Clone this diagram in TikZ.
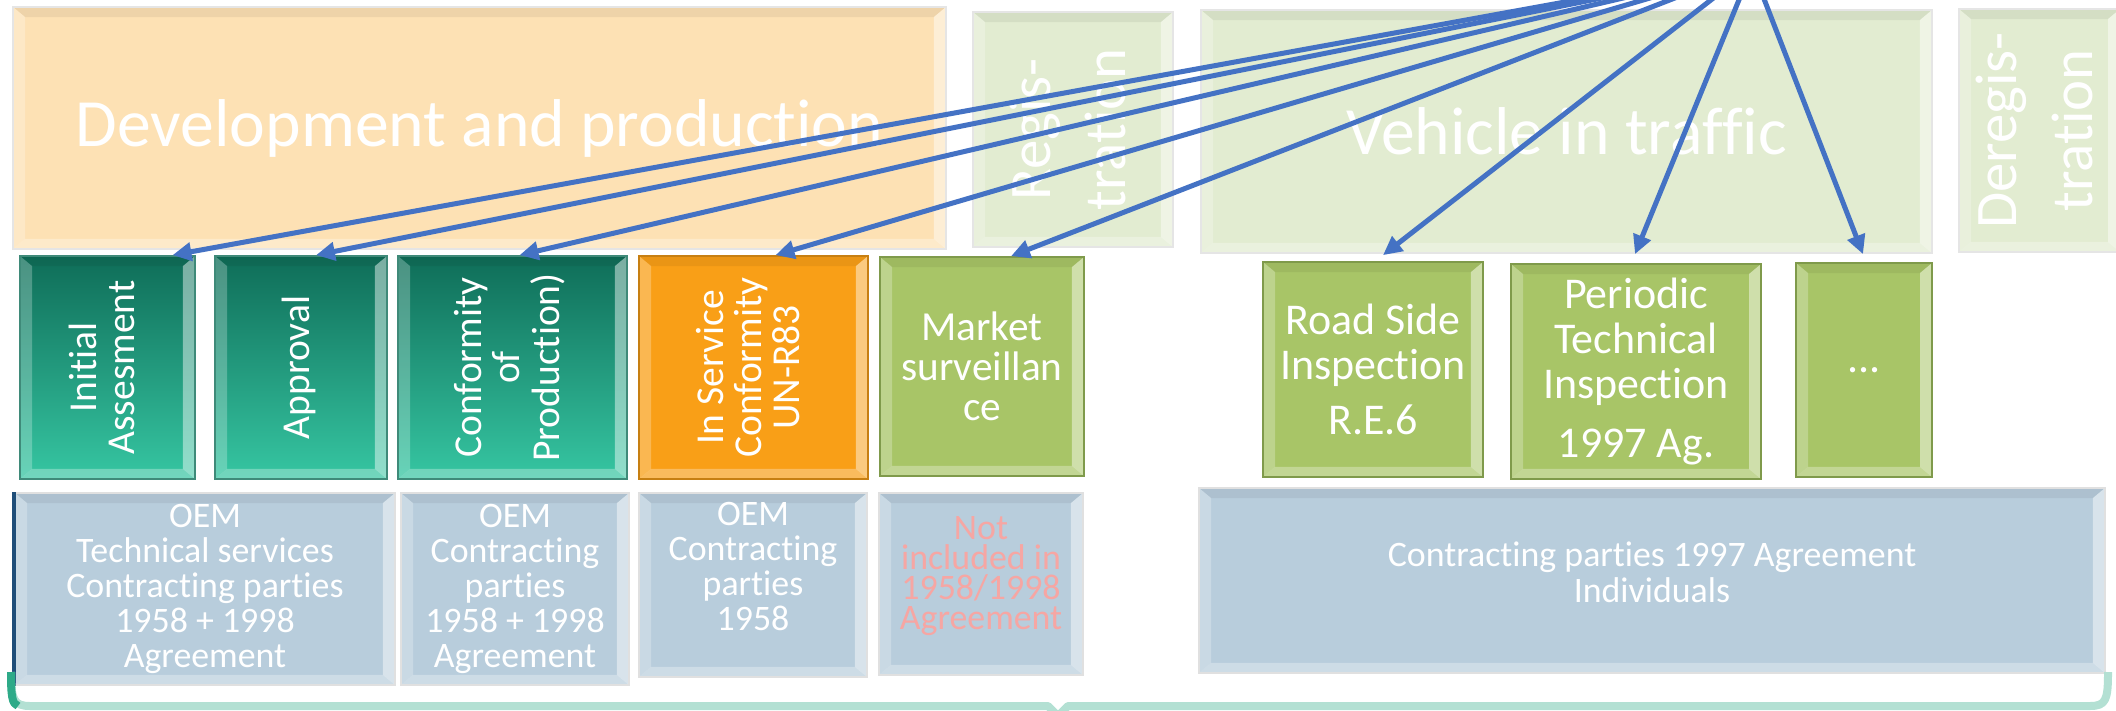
\documentclass[tikz,border=0pt]{standalone}
\usepackage{fontspec}
\setmainfont[Ligatures=NoCommon]{Carlito}
\usetikzlibrary{arrows.meta,calc}

\definecolor{peach}{HTML}{FDE1B4}
\definecolor{pale}{HTML}{E2ECD1}
\definecolor{tealtop}{HTML}{0F6D58}
\definecolor{tealbot}{HTML}{36C6A2}
\definecolor{orng}{HTML}{F99F17}
\definecolor{leaf}{HTML}{A8C567}
\definecolor{leafline}{HTML}{7F9A4B}
\definecolor{steel}{HTML}{B8CDDC}
\definecolor{linkblue}{HTML}{4472C4}
\definecolor{mint}{HTML}{B3E0D3}
\definecolor{mintdark}{HTML}{2EAA88}
\definecolor{navy}{HTML}{1F4E79}
\definecolor{salmon}{HTML}{F6A6A3}

\newcommand{\vtext}[1]{\rotatebox{90}{\begin{tabular}{@{}c@{}}#1\end{tabular}}}

\tikzset{
  bevel/.style={path picture={
    \coordinate (bnw) at (path picture bounding box.north west);
    \coordinate (bne) at (path picture bounding box.north east);
    \coordinate (bsw) at (path picture bounding box.south west);
    \coordinate (bse) at (path picture bounding box.south east);
    \fill[black,opacity=.06] (bnw) -- (bne) -- ([shift={(-.24cm,-.2cm)}]bne) -- ([shift={(.24cm,-.2cm)}]bnw) -- cycle;
    \fill[white,opacity=.3] (bsw) -- (bse) -- ([shift={(-.24cm,.2cm)}]bse) -- ([shift={(.24cm,.2cm)}]bsw) -- cycle;
    \fill[white,opacity=.25] (bnw) -- (bsw) -- ([shift={(.24cm,.2cm)}]bsw) -- ([shift={(.24cm,-.2cm)}]bnw) -- cycle;
    \fill[white,opacity=.45] (bne) -- (bse) -- ([shift={(-.24cm,.2cm)}]bse) -- ([shift={(-.24cm,-.2cm)}]bne) -- cycle;
  }},
  phase/.style={rectangle,inner sep=0pt,fill=#1,draw=black!10,line width=1pt,bevel,text=white,
    font=\fontsize{38.5}{46}\selectfont},
  vphase/.style={phase=pale,font=\fontsize{33.5}{43}\selectfont},
  tealbox/.style={rectangle,inner sep=0pt,top color=tealtop,bottom color=tealbot,draw=tealtop!80,
    line width=1pt,bevel,text=white,font=\fontsize{22.5}{21.5}\selectfont},
  orangebox/.style={tealbox,top color=orng,bottom color=orng,draw=orng!80!black},
  greenbox/.style={rectangle,inner sep=0pt,fill=leaf,draw=leafline,line width=1pt,bevel,text=white,
    align=center,font=\fontsize{25}{25.5}\selectfont},
  infobox/.style={rectangle,inner sep=0pt,fill=steel,draw=black!12,line width=1pt,bevel,text=white,
    align=center,font=\fontsize{20.4}{19.8}\selectfont},
  link/.style={draw=linkblue,line width=0.1cm,-{Triangle[length=0.38cm,width=0.36cm]}},
  brace/.style={draw=mint,line width=0.16cm,line join=round},
}

\begin{document}
\begin{tikzpicture}[x=0.02cm,y=-0.02cm]
  \useasboundingbox (0,0) rectangle (2116,710);
  \clip (0,0) rectangle (2116,710);

  % life cycle phases
  \node[phase=peach,minimum width=18.66cm,minimum height=4.84cm] (dev) at (479.5,128) {Development and production};
  \node[vphase,minimum width=4.0cm,minimum height=4.7cm] (reg) at (1073,129.5) {\vtext{Regis-\\tration}};
  \node[phase=pale,minimum width=14.62cm,minimum height=4.86cm] (veh) at (1566.5,131.5) {Vehicle in traffic};
  \node[vphase,minimum width=3.22cm,minimum height=4.86cm] (dereg) at (2039.5,130.5) {\vtext{Deregis-\\tration}};

  % checks
  \node[tealbox,minimum width=3.5cm,minimum height=4.46cm] (ia) at (107.5,367.5) {\vtext{Initial\\Assesment}};
  \node[tealbox,minimum width=3.44cm,minimum height=4.46cm] (appr) at (301,367.5) {\vtext{Approval}};
  \node[tealbox,minimum width=4.58cm,minimum height=4.46cm] (cop) at (512.5,367.5) {\vtext{Conformity\\of\\Production)}};
  \node[orangebox,minimum width=4.58cm,minimum height=4.46cm] (isc) at (753.5,367.5) {\vtext{In Service\\Conformity\\UN-R83}};
  \node[greenbox,minimum width=4.08cm,minimum height=4.38cm,font=\fontsize{23.5}{22.7}\selectfont] (ms) at (982,366.5) {Market\\surveillan\\ce};
  \node[greenbox,minimum width=4.4cm,minimum height=4.3cm] (rsi) at (1373,369.5) {Road Side\\Inspection\\[6pt]R.E.6};
  \node[greenbox,minimum width=5.0cm,minimum height=4.3cm] (pti) at (1636,371.5) {Periodic\\Technical\\Inspection\\[8pt]1997 Ag.};
  \node[greenbox,minimum width=2.72cm,minimum height=4.28cm] (more) at (1864,370) {...};

  % parties
  \node[infobox,minimum width=7.6cm,minimum height=3.84cm] (oem1) at (205,589) {OEM\\Technical services\\Contracting parties\\1958 + 1998\\Agreement};
  \node[infobox,minimum width=4.56cm,minimum height=3.84cm] (oem2) at (515,589) {OEM\\Contracting\\parties\\1958 + 1998\\Agreement};
  \node[infobox,minimum width=4.56cm,minimum height=3.68cm,text depth=0.75cm] (oem3) at (753,585) {OEM\\Contracting\\parties\\1958};
  \node[infobox,minimum width=4.08cm,minimum height=3.64cm,text=salmon,font=\fontsize{20.4}{17}\selectfont,text depth=0.44cm] (notinc) at (981,584) {Not\\included in\\1958/1998\\Agreement};
  \node[infobox,minimum width=18.12cm,minimum height=3.7cm,font=\fontsize{20.4}{20.4}\selectfont,text depth=0.35cm] (cp97) at (1652,580.5) {Contracting parties 1997 Agreement\\Individuals};
  \draw[navy,line width=0.08cm] (oem1.north west) -- (oem1.south west);

  % bracket under everything
  \draw[brace] (11,672) .. controls (11,700) and (14,706) .. (30,706) -- (1048,706) -- (1058,716)
    -- (1068,706) -- (2090,706) .. controls (2106,706) and (2108,700) .. (2108,672);
  \draw[brace,draw=mintdark] (11,672) .. controls (11,696) and (12,704) .. (18,706);

  % links from the top
  \coordinate (src) at (1752,-32);
  \begin{scope}[link]
    \draw (src) -- ($(ia.north)+(65,0)$);
    \draw (src) -- ($(appr.north)+(15,0)$);
    \draw (src) -- ($(cop.north)+(7,0)$);
    \draw (src) -- ($(isc.north)+(22,0)$);
    \draw (src) -- ($(ms.north)+(29,0)$);
    \draw (src) -- ($(rsi.north)+(10,-6)$);
    \draw (src) -- ($(pti.north)+(-1,-9)$);
    \draw (src) -- ($(more.north)+(-1,-8)$);
  \end{scope}
\end{tikzpicture}
\end{document}
